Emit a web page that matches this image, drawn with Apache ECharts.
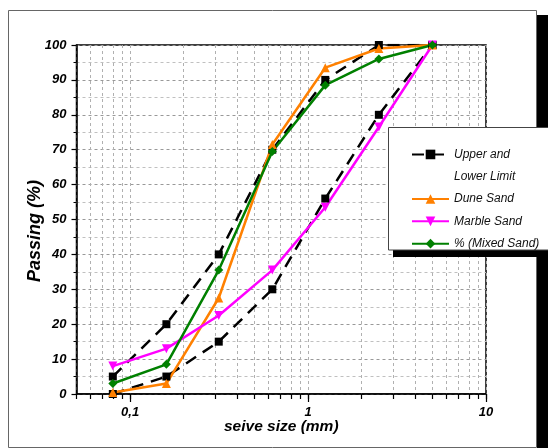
<!DOCTYPE html>
<html>
<head>
<meta charset="utf-8">
<script src="https://cdn.jsdelivr.net/npm/echarts@6/dist/echarts.min.js"></script>
<style>html,body{margin:0;background:#fff}#chart{width:548px;height:448px}</style>
</head>
<body>
<div id="chart"></div>
<script>
// sieve sizes (mm) and % passing
const sizes=[0.08,0.16,0.315,0.63,1.25,2.5,5];
const upper=[5,20,40,70,90,100,100];
const lower=[0,5,15,30,56,80,100];
const dune=[0.4,3,27.5,71.5,93.5,99,100];
const marble=[8,13,22.5,35.5,53.5,76.5,100];
const mixed=[3,8.5,35.5,69.5,88.5,96,100];
const majorTicks=[0.1,1,10];
const allTicks=[0.05,0.06,0.07,0.08,0.09,0.1,0.2,0.3,0.4,0.5,0.6,0.7,0.8,0.9,1,2,3,4,5,6,7,8,9,10];

const font='"Liberation Sans", Arial, sans-serif';
const pts=ys=>sizes.map((x,i)=>[x,ys[i]]);
const LIMIT="Upper and Lower Limit";

function line(name,ys,color,symbol,extra){
  return Object.assign({
    name,type:"line",data:pts(ys),symbol,symbolSize:9,
    lineStyle:{color,width:2.5},itemStyle:{color},
    animation:false,z:2
  },extra||{});
}

const chart=echarts.init(document.querySelector("#chart"));
chart.setOption({
  animation:false,
  graphic:[
    {type:"rect",z:-2,shape:{x:537,y:15,width:20,height:440},style:{fill:"#000"}},
    {type:"rect",z:-1,shape:{x:8.5,y:10.5,width:528,height:437},style:{fill:"#fff",stroke:"#666",lineWidth:1}},
    {type:"rect",z:3,shape:{x:393,y:250,width:160,height:7},style:{fill:"#000"}},
    {type:"rect",z:3,shape:{x:388.5,y:127.5,width:170,height:122.5},style:{fill:"#fff",stroke:"#444",lineWidth:1}}
  ],
  grid:{left:76.5,right:62,top:45,bottom:54,show:true,borderColor:"#000",borderWidth:1.5},
  legend:{
    orient:"vertical",left:411,top:121,padding:0,itemGap:0,itemWidth:37,itemHeight:12,z:6,
    textStyle:{fontFamily:font,fontStyle:"italic",fontSize:12,color:"#111",lineHeight:22.3},
    // blank first line keeps the icon level with "Upper and"
    formatter:n=>n===LIMIT?" \nUpper and\nLower Limit":n,
    data:[LIMIT,"Dune Sand","Marble Sand","% (Mixed Sand)"]
  },
  xAxis:[{
    type:"log",logBase:10,min:0.05,max:10,position:"bottom",
    axisLine:{lineStyle:{color:"#000",width:1.5}},
    axisTick:{customValues:allTicks,length:5,lineStyle:{color:"#000",width:1.2}},
    axisLabel:{show:false},
    splitLine:{show:true,lineStyle:{color:"#b0b0b0",type:[3,3],width:1}}
  },{
    type:"log",logBase:10,min:0.05,max:10,position:"bottom",
    axisLine:{show:false},
    axisTick:{customValues:majorTicks,length:8,lineStyle:{color:"#000",width:1.2}},
    axisLabel:{
      customValues:majorTicks,margin:12,
      fontFamily:font,fontWeight:"bold",fontStyle:"italic",fontSize:13,color:"#000",
      formatter:v=>String(+v.toPrecision(3)).replace(".",",")
    },
    splitLine:{show:false},
    name:"seive size (mm)",nameLocation:"middle",nameGap:25,nameMoveOverlap:false,
    nameTextStyle:{fontFamily:font,fontWeight:"bold",fontStyle:"italic",fontSize:15.5,color:"#000"}
  }],
  yAxis:{
    type:"value",min:0,max:100,interval:10,
    axisLine:{show:true,lineStyle:{color:"#000",width:1.5}},
    axisTick:{show:true,length:5,lineStyle:{color:"#000",width:1.2}},
    minorTick:{show:true,splitNumber:2,length:3,lineStyle:{color:"#000",width:1}},
    splitLine:{show:true,lineStyle:{color:"#999",type:[3,3],width:1}},
    minorSplitLine:{show:true,lineStyle:{color:"#c0c0c0",type:[3,3],width:1}},
    axisLabel:{margin:10,fontFamily:font,fontWeight:"bold",fontStyle:"italic",fontSize:13,color:"#000"},
    name:"{t|Passing (%)}{s|}",nameLocation:"middle",nameGap:32,nameMoveOverlap:false,
    nameTextStyle:{
      fontFamily:font,fontWeight:"bold",fontStyle:"italic",fontSize:18,color:"#000",
      rich:{t:{fontFamily:font,fontWeight:"bold",fontStyle:"italic",fontSize:18,color:"#000"},s:{width:23}}
    }
  },
  series:[
    line(LIMIT,upper,"#000","rect",{symbolSize:8,lineStyle:{color:"#000",width:2.5,type:[12,8]}}),
    line(LIMIT,lower,"#000","rect",{symbolSize:8,lineStyle:{color:"#000",width:2.5,type:[12,8]}}),
    line("Dune Sand",dune,"#ff8000","triangle"),
    line("Marble Sand",marble,"#ff00ff","triangle",{symbolRotate:180}),
    line("% (Mixed Sand)",mixed,"#008000","diamond")
  ]
});
</script>
</body>
</html>
